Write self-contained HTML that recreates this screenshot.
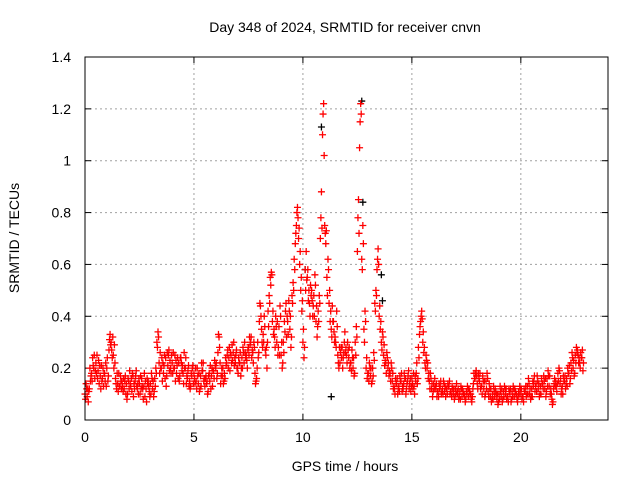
<!DOCTYPE html>
<html><head><meta charset="utf-8"><style>
html,body{margin:0;padding:0;background:#fff;}
svg{display:block;font-family:"Liberation Sans",sans-serif;}
</style></head><body>
<svg id="chart" width="640" height="480" viewBox="0 0 640 480" xmlns="http://www.w3.org/2000/svg">
<rect width="640" height="480" fill="#fff"/>
<text x="345" y="32" font-size="14" text-anchor="middle" fill="#000">Day 348 of 2024, SRMTID for receiver cnvn</text>
<text x="345" y="471" font-size="14" text-anchor="middle" fill="#000">GPS time / hours</text>
<text transform="translate(19,238) rotate(-90)" font-size="14" text-anchor="middle" fill="#000">SRMTID / TECUs</text>
<g id="grid"></g><g id="ticks"></g><g id="marks"></g>
<rect x="85" y="57" width="523" height="363" fill="none" stroke="#000" stroke-width="1"/>
</svg>
<script>
const xTicks=[0,5,10,15,20];
const yTicks=[0,0.2,0.4,0.6,0.8,1,1.2,1.4];
const yTickLabels=["0","0.2","0.4","0.6","0.8","1","1.2","1.4"];
const satA=[
0.10,0.09,0.12,0.18,0.20,0.22,0.19,0.17,0.16,0.18,
0.20,0.27,0.30,0.25,0.16,0.14,0.13,0.15,0.12,0.14,
0.15,0.13,0.17,0.15,0.12,0.14,0.16,0.13,0.12,0.15,
0.14,0.12,0.16,0.30,0.22,0.20,0.18,0.24,0.21,0.23,
0.22,0.20,0.18,0.22,0.24,0.18,0.20,0.16,0.15,0.17,
0.18,0.15,0.14,0.17,0.19,0.13,0.15,0.18,0.17,0.19,
0.20,0.26,0.22,0.17,0.18,0.22,0.24,0.25,0.26,0.22,
0.20,0.22,0.24,0.22,0.25,0.28,0.30,0.26,0.18,0.20,
0.38,0.35,0.30,0.25,0.42,0.55,0.38,0.32,0.30,0.36,
0.25,0.30,0.42,0.38,0.35,0.48,0.62,0.75,0.70,0.50,
0.30,0.58,0.55,0.45,0.50,0.48,0.38,0.42,0.70,1.10,
0.75,0.55,0.45,0.35,0.38,0.30,0.25,0.22,0.28,0.30,
0.25,0.24,0.22,0.20,0.30,0.65,1.05,0.62,0.35,0.20,
0.18,0.17,0.20,0.45,0.58,0.40,0.30,0.25,0.22,0.20,
0.18,0.15,0.12,0.14,0.13,0.15,0.12,0.16,0.15,0.14,
0.16,0.13,0.18,0.28,0.38,0.30,0.22,0.20,0.15,0.12,
0.14,0.12,0.11,0.13,0.12,0.11,0.12,0.13,0.11,0.10,
0.12,0.10,0.11,0.09,0.10,0.11,0.09,0.10,0.12,0.16,
0.14,0.15,0.13,0.12,0.15,0.11,0.09,0.10,0.09,0.08,
0.10,0.09,0.11,0.10,0.09,0.10,0.11,0.09,0.10,0.11,
0.10,0.09,0.11,0.13,0.10,0.12,0.15,0.14,0.12,0.13,
0.14,0.12,0.16,0.13,0.10,0.12,0.15,0.18,0.14,0.13,
0.15,0.16,0.18,0.22,0.20,0.25,0.27,0.22,0.24];
const satB=[
0.14,0.07,0.15,0.24,0.16,0.25,0.14,0.21,0.13,0.22,
0.15,0.33,0.24,0.29,0.12,0.18,0.15,0.11,0.17,0.10,
0.19,0.11,0.14,0.19,0.10,0.17,0.12,0.09,0.16,0.11,
0.18,0.09,0.20,0.34,0.26,0.15,0.25,0.17,0.27,0.18,
0.26,0.15,0.24,0.17,0.19,0.26,0.14,0.21,0.13,0.21,
0.14,0.20,0.11,0.22,0.15,0.17,0.11,0.21,0.13,0.23,
0.16,0.32,0.17,0.14,0.24,0.27,0.19,0.29,0.21,0.27,
0.24,0.17,0.28,0.26,0.20,0.32,0.24,0.30,0.15,0.24,
0.44,0.28,0.36,0.20,0.48,0.57,0.33,0.40,0.25,0.44,
0.20,0.38,0.32,0.46,0.28,0.53,0.68,0.82,0.60,0.42,
0.24,0.65,0.46,0.52,0.40,0.56,0.32,0.48,0.88,1.22,
0.68,0.62,0.38,0.44,0.30,0.42,0.20,0.28,0.24,0.26,
0.30,0.20,0.27,0.17,0.36,0.85,1.22,0.75,0.42,0.16,
0.22,0.14,0.26,0.50,0.66,0.35,0.34,0.21,0.26,0.17,
0.22,0.12,0.16,0.10,0.17,0.11,0.18,0.12,0.19,0.11,
0.12,0.17,0.14,0.33,0.42,0.26,0.25,0.16,0.18,0.09,
0.16,0.09,0.14,0.10,0.15,0.09,0.14,0.10,0.13,0.08,
0.14,0.08,0.13,0.11,0.07,0.13,0.11,0.07,0.18,0.19,
0.18,0.12,0.17,0.09,0.18,0.14,0.07,0.13,0.11,0.06,
0.13,0.07,0.13,0.08,0.12,0.07,0.13,0.11,0.07,0.13,
0.08,0.12,0.09,0.16,0.08,0.15,0.11,0.17,0.09,0.16,
0.17,0.09,0.19,0.10,0.06,0.16,0.11,0.20,0.10,0.17,
0.12,0.20,0.14,0.26,0.17,0.28,0.22,0.26,0.19];
const satC=[
0.08,0.12,0.20,0.15,0.25,0.18,0.23,0.12,0.20,0.15,
0.24,0.31,0.27,0.20,0.14,0.11,0.17,0.13,0.15,0.08,
0.12,0.16,0.09,0.17,0.14,0.10,0.13,0.18,0.07,0.13,
0.10,0.15,0.13,0.28,0.18,0.24,0.21,0.13,0.25,0.20,
0.18,0.25,0.21,0.15,0.22,0.14,0.24,0.19,0.12,0.20,
0.16,0.12,0.18,0.13,0.22,0.16,0.10,0.15,0.20,0.16,
0.22,0.33,0.14,0.20,0.16,0.25,0.28,0.22,0.30,0.25,
0.18,0.26,0.20,0.30,0.23,0.25,0.32,0.22,0.14,0.30,
0.45,0.30,0.40,0.28,0.36,0.52,0.42,0.28,0.38,0.25,
0.30,0.26,0.45,0.33,0.40,0.45,0.58,0.80,0.74,0.55,
0.35,0.50,0.58,0.40,0.46,0.40,0.44,0.38,0.78,1.18,
0.72,0.48,0.50,0.32,0.34,0.28,0.22,0.26,0.20,0.34,
0.22,0.28,0.19,0.24,0.25,0.78,1.15,0.58,0.30,0.24,
0.15,0.20,0.17,0.42,0.62,0.44,0.27,0.29,0.18,0.22,
0.15,0.18,0.10,0.16,0.11,0.18,0.14,0.10,0.17,0.16,
0.14,0.10,0.22,0.24,0.40,0.34,0.20,0.22,0.12,0.14,
0.12,0.14,0.09,0.15,0.10,0.13,0.10,0.15,0.09,0.12,
0.10,0.12,0.08,0.12,0.09,0.10,0.12,0.08,0.14,0.18,
0.12,0.18,0.10,0.15,0.12,0.09,0.12,0.08,0.12,0.10,
0.08,0.12,0.09,0.12,0.07,0.12,0.09,0.12,0.08,0.10,
0.12,0.07,0.13,0.10,0.12,0.09,0.17,0.11,0.14,0.10,
0.12,0.16,0.13,0.17,0.08,0.14,0.13,0.15,0.16,0.10,
0.17,0.13,0.21,0.19,0.23,0.22,0.25,0.20,0.27];
const satD=[
0.12,0.11,0.17,0.21,0.19,0.16,0.21,0.15,0.18,0.13,
0.17,0.29,0.32,0.22,0.18,0.13,0.12,0.16,0.10,0.16,
0.14,0.18,0.12,0.13,0.16,0.12,0.08,0.15,0.14,0.09,
0.16,0.11,0.18,0.32,0.20,0.22,0.16,0.26,0.19,0.25,
0.20,0.23,0.16,0.24,0.21,0.20,0.17,0.13,0.18,0.14,
0.20,0.17,0.12,0.19,0.16,0.14,0.17,0.12,0.19,0.21,
0.18,0.28,0.20,0.15,0.21,0.20,0.26,0.23,0.24,0.20,
0.22,0.20,0.26,0.24,0.27,0.29,0.27,0.28,0.16,0.26,
0.40,0.33,0.27,0.30,0.45,0.56,0.35,0.36,0.28,0.40,
0.22,0.34,0.40,0.42,0.32,0.50,0.72,0.78,0.65,0.46,
0.28,0.54,0.50,0.48,0.44,0.52,0.36,0.45,0.74,1.02,
0.73,0.58,0.42,0.38,0.32,0.36,0.28,0.24,0.26,0.28,
0.27,0.22,0.24,0.18,0.32,0.72,1.18,0.68,0.38,0.18,
0.20,0.15,0.23,0.48,0.60,0.38,0.32,0.23,0.24,0.19,
0.20,0.13,0.14,0.12,0.15,0.13,0.16,0.14,0.12,0.13,
0.18,0.15,0.16,0.36,0.39,0.28,0.23,0.18,0.16,0.11,
0.13,0.11,0.12,0.11,0.14,0.12,0.13,0.11,0.12,0.09,
0.11,0.09,0.12,0.10,0.08,0.12,0.10,0.09,0.16,0.17,
0.16,0.13,0.15,0.10,0.16,0.12,0.08,0.11,0.10,0.07,
0.11,0.08,0.12,0.09,0.11,0.08,0.12,0.10,0.09,0.12,
0.09,0.11,0.10,0.14,0.09,0.13,0.13,0.15,0.10,0.14,
0.15,0.11,0.17,0.12,0.07,0.13,0.14,0.19,0.12,0.15,
0.14,0.18,0.16,0.24,0.18,0.26,0.24,0.24,0.22];
const blackTimes=[10.1,10.85,11.3,12.7,12.75,13.6,13.65];
const blackValues=[0.58,1.13,0.09,1.23,0.84,0.56,0.46];
const sampleStep=0.1;

const X0=85,X1=608,Y0=420,Y1=57,XMAX=24,YMAX=1.4;
function sx(t){return X0+(X1-X0)*t/XMAX;}
function sy(v){return Y0-(Y0-Y1)*v/YMAX;}
const NS="http://www.w3.org/2000/svg";
function mk(tag,attrs,parent){const e=document.createElementNS(NS,tag);for(const k in attrs)e.setAttribute(k,attrs[k]);parent.appendChild(e);return e;}
const grid=document.getElementById('grid'),ticks=document.getElementById('ticks'),marks=document.getElementById('marks');
xTicks.forEach(t=>{
  const x=sx(t);
  if(t>0){const g=mk('line',{x1:x,y1:Y0,x2:x,y2:Y1,stroke:'#a0a0a0','stroke-dasharray':'2,3'},grid);
  
  }
  mk('line',{x1:x,y1:Y0,x2:x,y2:Y0-6,stroke:'#000'},ticks);
  mk('line',{x1:x,y1:Y1,x2:x,y2:Y1+6,stroke:'#000'},ticks);
  const l=mk('text',{x:x,y:Y0+22,'font-size':14,'text-anchor':'middle'},ticks);
  l.textContent=String(t);
  
  
});
yTicks.forEach((v,i)=>{
  const y=sy(v);
  if(v>0&&v<YMAX){const g=mk('line',{x1:X0,y1:y,x2:X1,y2:y,stroke:'#a0a0a0','stroke-dasharray':'2,3'},grid);
  
  }
  mk('line',{x1:X0,y1:y,x2:X0+6,y2:y,stroke:'#000'},ticks);
  mk('line',{x1:X1,y1:y,x2:X1-6,y2:y,stroke:'#000'},ticks);
  const l=mk('text',{x:X0-14,y:y+5,'font-size':14,'text-anchor':'end'},ticks);
  l.textContent=yTickLabels[i];
  
  
});
function plus(t,v,color,name){
  const x=sx(t),y=sy(v);
  const p=mk('path',{d:`M${x-3.5},${y}H${x+3.5}M${x},${y-3.5}V${y+3.5}`,stroke:color,'stroke-width':1.3,fill:'none'},marks);
  
  
}
blackTimes.forEach((t,i)=>plus(t,blackValues[i],'#000','black-point'));
satA.forEach((v,i)=>plus(i*sampleStep,v,'#ff0000','red-point'));
satC.forEach((v,i)=>plus(i*sampleStep+sampleStep/4,v,'#ff0000','red-point'));
satB.forEach((v,i)=>plus(i*sampleStep+sampleStep/2,v,'#ff0000','red-point'));
satD.forEach((v,i)=>plus(i*sampleStep+3*sampleStep/4,v,'#ff0000','red-point'));
</script>
</body></html>
